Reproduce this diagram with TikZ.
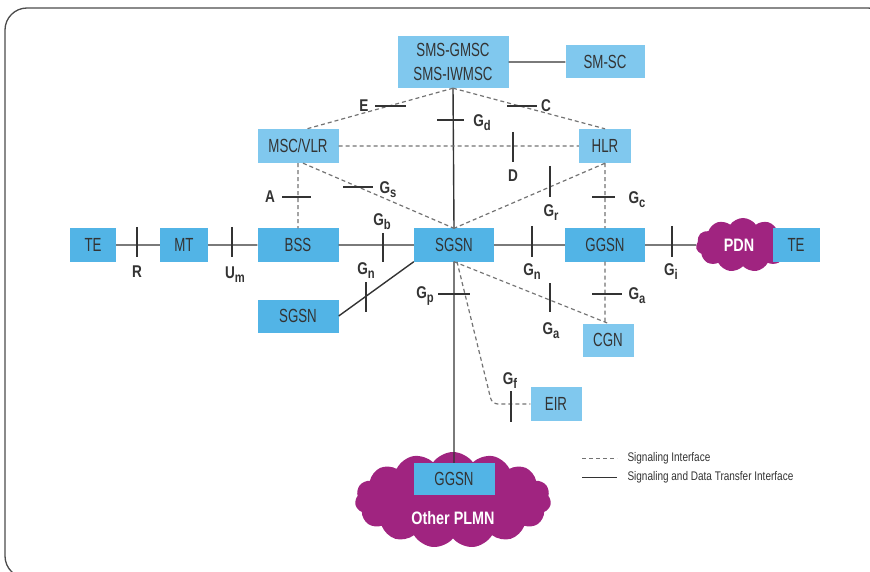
\documentclass[tikz,border=0pt]{standalone}
\usepackage{fontspec}
\setmainfont[FakeStretch=0.7]{Liberation Sans}
\newfontfamily\lblfont[FakeStretch=0.8]{Liberation Sans}
\usetikzlibrary{shapes.symbols}
\definecolor{boxblue}{RGB}{82,180,230}
\definecolor{lightblue}{RGB}{128,200,238}
\definecolor{plmn}{RGB}{160,36,128}
\definecolor{ink}{RGB}{51,51,51}
\newcommand{\itf}[2]{#1\raisebox{-0.45ex}{\fontsize{14}{14}\selectfont #2}}
\tikzset{
 unit/.style={fill=boxblue, text=ink, inner sep=0pt, minimum height=33, font=\fontsize{19}{24}\selectfont},
 unitl/.style={unit, fill=lightblue},
 data/.style={draw=ink, line width=1.4pt},
 sig/.style={draw=gray!90!black, line width=1.2pt, dash pattern=on 4pt off 3pt},
 tk/.style={draw=ink, line width=1.8pt},
 lbl/.style={font=\lblfont\fontsize{17}{19}\selectfont\bfseries, text=ink, inner sep=0pt},
 net/.style={cloud, cloud puffs=11, cloud puff arc=110, cloud ignores aspect, fill=plmn, draw=none},
 netlbl/.style={text=white, inner sep=0pt, font=\lblfont\fontsize{18}{20}\selectfont\bfseries},
 legend/.style={anchor=west, inner sep=0pt, xshift=10pt, text=ink, font=\lblfont\fontsize{12.5}{14}\selectfont}
}
\begin{document}
\begin{tikzpicture}[x=1pt,y=-1pt]
\useasboundingbox (0,0) rectangle (870,572);
\begin{scope}
 \clip (0,0) rectangle (870,572);
 \draw[line width=1.3pt, gray!60!black, rounded corners=22pt] (5,8) rectangle (890,578);
\end{scope}
% clouds
\node[net, minimum width=94, minimum height=54] (pdn) at (743,245) {};
\node[netlbl] (pdnlbl) at (739,245) {PDN};
\node[net, cloud puffs=15, minimum width=196, minimum height=96] (plmn) at (453,500) {};
\node[netlbl] (plmnlbl) at (453,518) {Other PLMN};
% network elements
\node[unit, minimum width=46] (te) at (93,245) {TE};
\node[unit, minimum width=48] (mt) at (184,245) {MT};
\node[unit, minimum width=81] (bss) at (298,245) {BSS};
\node[unit, minimum width=80] (sgsn) at (454,245) {SGSN};
\node[unit, minimum width=80] (ggsn) at (605,245) {GGSN};
\node[unit, minimum width=47] (ter) at (796,245) {TE};
\node[unit, minimum width=81] (sgsnb) at (298,316) {SGSN};
\node[unitl, minimum width=81, minimum height=34] (msc) at (298,146) {MSC/VLR};
\node[unitl, minimum width=52, minimum height=34] (hlr) at (605,146) {HLR};
\node[unitl, minimum width=111, minimum height=52, align=center] (sms) at (453,62) {SMS-GMSC\\SMS-IWMSC};
\node[unitl, minimum width=79] (smsc) at (605,62) {SM-SC};
\node[unitl, minimum width=51] (cgn) at (608,340) {CGN};
\node[unitl, minimum width=51, minimum height=34] (eir) at (556,404) {EIR};
\node[unit, minimum width=81, minimum height=32] (ggsno) at (454,479) {GGSN};
% signaling and data
\draw[data] (te) -- (mt) (mt) -- (bss) (bss) -- (sgsn) (sgsn) -- (ggsn) (ggsn) -- (pdn)
 (sms) -- (smsc) (sms.south) -- (sgsn.north) (sgsn.south) -- (ggsno.north)
 (sgsn.south west) -- (sgsnb.east);
% signaling only
\draw[sig] (sms.south) -- ([xshift=9]msc.north) (sms.south) -- (hlr.north) (msc) -- (hlr)
 (msc) -- (bss) ([xshift=5]msc.south) -- (sgsn.north) (hlr.south) -- (sgsn.north)
 (hlr) -- (ggsn) (ggsn.south) -- (ggsn.south |- cgn.north) (sgsn.south) -- (cgn.north);
\coordinate (bend) at (492,404);
\draw[sig, rounded corners=6] ([xshift=3]sgsn.south) -- (bend) -- (eir.west);
% interface ticks
\foreach \x/\ya/\yb in {137/227/257, 232/227/257, 383/233/262, 366/282/312, 532/226/257,
 672/226/257, 513/132/162, 550/166/197, 550/283/312, 511/391/422}
 \draw[tk] (\x,\ya) -- (\x,\yb);
\foreach \y/\xa/\xb in {106/375/406, 106/507/537, 120/437/464, 197/282/311, 187/343/373,
 197/592/615, 294/438/470, 294/592/622}
 \draw[tk] (\xa,\y) -- (\xb,\y);
% interface names
\node[lbl] (lr) at (137,272) {R};
\node[lbl] (lum) at (235,275) {\itf{U}{m}};
\node[lbl] (lgb) at (382,222) {\itf{G}{b}};
\node[lbl] (lgn) at (366,271) {\itf{G}{n}};
\node[lbl] (lgp) at (425,296) {\itf{G}{p}};
\node[lbl] (lgn2) at (532,272) {\itf{G}{n}};
\node[lbl] (lgi) at (671,272) {\itf{G}{i}};
\node[lbl] (lga) at (551,331) {\itf{G}{a}};
\node[lbl] (lga2) at (637,296) {\itf{G}{a}};
\node[lbl] (lgc) at (637,200) {\itf{G}{c}};
\node[lbl] (lgr) at (551,213) {\itf{G}{r}};
\node[lbl] (ld) at (513,176) {D};
\node[lbl] (lgs) at (388,190) {\itf{G}{s}};
\node[lbl] (la) at (270,197) {A};
\node[lbl] (le) at (364,106) {E};
\node[lbl] (lc) at (546,106) {C};
\node[lbl] (lgd) at (482,123) {\itf{G}{d}};
\node[lbl] (lgf) at (510,381) {\itf{G}{f}};
% legend
\coordinate (sa) at (582,458); \coordinate (sb) at (617,458);
\coordinate (da) at (582,477); \coordinate (db) at (617,477);
\draw[sig, line width=1pt] (sa) -- (sb) node[legend] {Signaling Interface};
\draw[data, line width=1pt] (da) -- (db) node[legend] {Signaling and Data Transfer Interface};
\end{tikzpicture}
\end{document}
